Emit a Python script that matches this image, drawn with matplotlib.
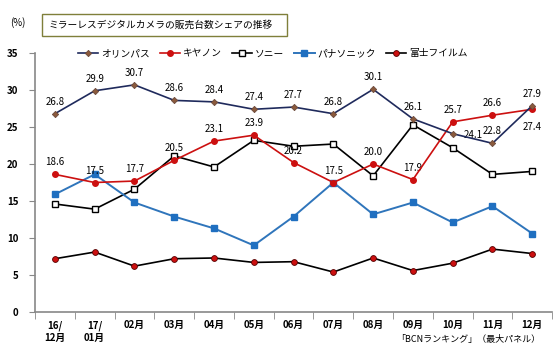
import matplotlib
matplotlib.use("Agg")
import matplotlib.pyplot as plt
from matplotlib.patches import Rectangle
import numpy as np

plt.rcParams['font.family'] = ['Noto Sans CJK JP', 'DejaVu Sans']

months = ["16/\n12月", "17/\n01月", "02月", "03月", "04月", "05月", "06月",
          "07月", "08月", "09月", "10月", "11月", "12月"]
olympus = [26.8, 29.9, 30.7, 28.6, 28.4, 27.4, 27.7, 26.8, 30.1, 26.1, 24.1, 22.8, 27.9]
canon = [18.6, 17.5, 17.7, 20.5, 23.1, 23.9, 20.2, 17.5, 20.0, 17.9, 25.7, 26.6, 27.4]
sony = [14.6, 13.9, 16.6, 21.1, 19.6, 23.2, 22.4, 22.7, 18.4, 25.3, 22.2, 18.6, 19.0]
panasonic = [15.9, 18.6, 14.8, 12.9, 11.3, 9.0, 12.9, 17.5, 13.2, 14.8, 12.1, 14.3, 10.6]
fujifilm = [7.2, 8.1, 6.2, 7.2, 7.3, 6.7, 6.8, 5.4, 7.3, 5.6, 6.6, 8.5, 7.9]
names = ["オリンパス", "キヤノン", "ソニー", "パナソニック", "富士フイルム"]
yticks = [0, 5, 10, 15, 20, 25, 30, 35]

fig = plt.figure(figsize=(5.6, 3.56), dpi=100)
ax = fig.add_axes([0.0625, 0.1236, 0.9235, 0.7274])
x = np.arange(len(months))

l1, = ax.plot(x, olympus, color='#1f2a5c', lw=1.2, marker='D', ms=3.2,
              mfc='#8b5a3c', mec='#6b4a3c', mew=0.6, zorder=5)
l2, = ax.plot(x, canon, color='#cc1010', lw=1.2, marker='o', ms=4,
              mfc='#cc1010', mec='#cc1010', zorder=4)
l3, = ax.plot(x, sony, color='black', lw=1.2, marker='s', ms=4.4,
              mfc='white', mec='black', mew=1.0, zorder=3)
l4, = ax.plot(x, panasonic, color='#2f75bb', lw=1.4, marker='s', ms=4.2,
              mfc='#1f6fc0', mec='#1f6fc0', zorder=3)
l5, = ax.plot(x, fujifilm, color='black', lw=1.2, marker='o', ms=4.2,
              mfc='#cc1010', mec='#550000', mew=0.6, zorder=3)

lab_fs = 7
for i, v in enumerate(olympus):
    if i == 10:
        ax.annotate(f"{v:.1f}", (i, v), xytext=(15, -1), textcoords='offset points',
                    ha='center', va='center', fontsize=lab_fs)
    else:
        ax.annotate(f"{v:.1f}", (i, v), xytext=(0, 5), textcoords='offset points',
                    ha='center', va='bottom', fontsize=lab_fs)
for i, v in enumerate(canon):
    if i == 12:
        ax.annotate(f"{v:.1f}", (i, v), xytext=(0, -9), textcoords='offset points',
                    ha='center', va='top', fontsize=lab_fs)
    else:
        ax.annotate(f"{v:.1f}", (i, v), xytext=(0, 5), textcoords='offset points',
                    ha='center', va='bottom', fontsize=lab_fs)

ax.set_xlim(-0.5, 12.5)
ax.set_ylim(0, 35)
ax.set_yticks(yticks)
ax.set_yticklabels([str(t) for t in yticks], fontsize=7, fontweight='bold')
ax.set_xticks(x)
ax.set_xticklabels(months, fontsize=7, fontweight='bold', linespacing=1.25)
ax.tick_params(axis='x', length=0, pad=6)
ax.set_xticks(np.arange(-0.5, 13, 1), minor=True)
ax.tick_params(axis='x', which='minor', length=5, color='#888888', direction='out')
ax.tick_params(axis='y', length=4, color='#888888', pad=8)
for s in ['top', 'right']:
    ax.spines[s].set_visible(False)
for s in ['left', 'bottom']:
    ax.spines[s].set_color('#888888')
    ax.spines[s].set_linewidth(1.2)

leg = fig.legend([l1, l2, l3, l4, l5], names, loc='center', ncol=5,
                 bbox_to_anchor=(0.487, 0.85), frameon=False, fontsize=7,
                 handlelength=2.1, columnspacing=1.0, handletextpad=0.3)

fig.text(0.018, 0.938, "(%)", fontsize=7, va='center')
fig.patches.append(Rectangle((0.075, 0.90), 0.437, 0.062, transform=fig.transFigure,
                             fill=False, edgecolor='#7f7f3a', lw=1.0))
fig.text(0.087, 0.931, "ミラーレスデジタルカメラの販売台数シェアの推移", fontsize=7, va='center')
fig.text(0.965, 0.045, "「BCNランキング」（最大パネル）", fontsize=6.5, ha='right', va='center')

fig.savefig("out.png", dpi=100)
